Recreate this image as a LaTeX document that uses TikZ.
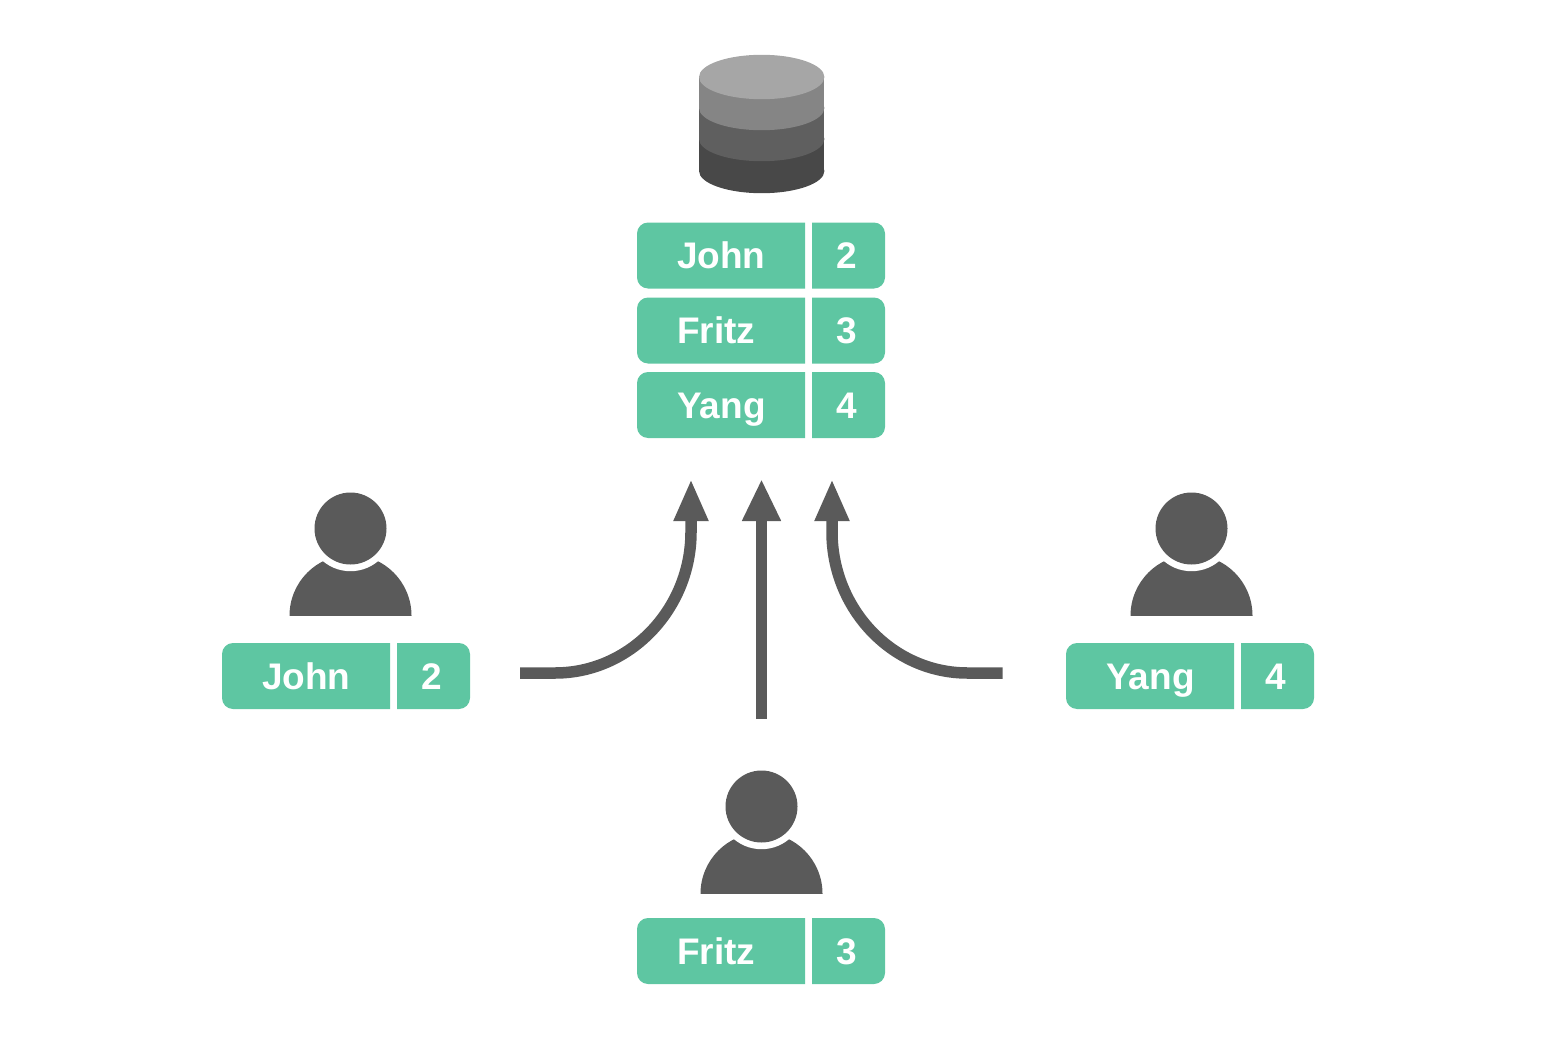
\documentclass[tikz,border=0pt]{standalone}
\usepackage{fontspec}
\setmainfont{Liberation Sans}
\usetikzlibrary{arrows.meta}
\definecolor{rowgreen}{HTML}{5EC6A2}
\definecolor{icongray}{HTML}{5A5A5A}
\definecolor{dbA}{HTML}{A6A6A6}
\definecolor{dbB}{HTML}{858585}
\definecolor{dbC}{HTML}{5F5F5F}
\definecolor{dbD}{HTML}{484848}
\tikzset{
  rowtext/.style={text=white,font=\fontsize{37}{40}\bfseries\selectfont,inner sep=0pt,anchor=base},
  flow/.style={draw=icongray,line width=11.5pt,line cap=butt,-{Triangle[length=42pt,width=32pt]}},
  straightflow/.style={draw=icongray,line width=10.5pt,line cap=butt,-{Triangle[length=42pt,width=36pt]}}
}
% x of row, y of top, prefix, name, number
\newcommand{\recrow}[5]{%
  \fill[rowgreen] (#1+168,#2) -- (#1+11,#2) .. controls (#1+5,#2) and (#1,#2+5) .. (#1,#2+11)
    -- (#1,#2+55) .. controls (#1,#2+61) and (#1+5,#2+66) .. (#1+11,#2+66)
    -- (#1+168,#2+66) -- cycle;
  \fill[rowgreen] (#1+175,#2) -- (#1+237,#2) .. controls (#1+243,#2) and (#1+248,#2+5) .. (#1+248,#2+11)
    -- (#1+248,#2+55) .. controls (#1+248,#2+61) and (#1+243,#2+66) .. (#1+237,#2+66)
    -- (#1+175,#2+66) -- cycle;
  \node[rowtext,anchor=base west] (#3name) at (#1+40,#2+46) {#4};
  \node[rowtext] (#3num) at (#1+210,#2+46) {#5};
}
% centre x, head centre y
\newcommand{\personicon}[3]{%
  \begin{scope}
    \clip (#1-70,#2+87.2) rectangle (#1+70,#2);
    \fill[icongray] (#1,#2+87.2) circle (61);
  \end{scope}
  \fill[white] (#1,#2) circle (42.7);
  \node[circle,fill=icongray,minimum size=72pt,inner sep=0pt] (#3) at (#1,#2) {};
}
% top-centre y of a slab, height, colour
\newcommand{\dbslab}[3]{%
  \fill[#3] (699,#1) rectangle (824.4,#1+#2);
  \fill[#3] (761.7,#1+#2) ellipse (62.7 and 22.2);
}
\begin{document}
\begin{tikzpicture}[x=1pt,y=-1pt]
\useasboundingbox (0,0) rectangle (1546,1046);
% database
\dbslab{139}{32}{dbD}
\dbslab{108}{31}{dbC}
\dbslab{77}{31}{dbB}
\fill[dbA] (761.7,77) ellipse (62.7 and 22.2);
% table
\recrow{637}{222.5}{ta}{John}{2}
\recrow{637}{297.5}{tb}{Fritz}{3}
\recrow{637}{372}{tc}{Yang}{4}
% people
\personicon{350.5}{528.5}{pa}
\personicon{761.5}{806.5}{pb}
\personicon{1191.5}{528.5}{pc}
\recrow{222}{643}{ua}{John}{2}
\recrow{637}{918}{ub}{Fritz}{3}
\recrow{1066}{643}{uc}{Yang}{4}
% arrows
\coordinate (sa) at (520,673);
\coordinate (ea) at (691,479);
\coordinate (sb) at (761.5,719);
\coordinate (eb) at (761.5,479);
\coordinate (sc) at (1002.5,673);
\coordinate (ec) at (832,479);
\draw[flow] (sa) -- (555,673) .. controls (630,673) and (691,609) .. (691,532) -- (ea);
\draw[straightflow] (sb) -- (eb);
\draw[flow] (sc) -- (967.5,673) .. controls (892.5,673) and (832,609) .. (832,532) -- (ec);
\end{tikzpicture}
\end{document}
